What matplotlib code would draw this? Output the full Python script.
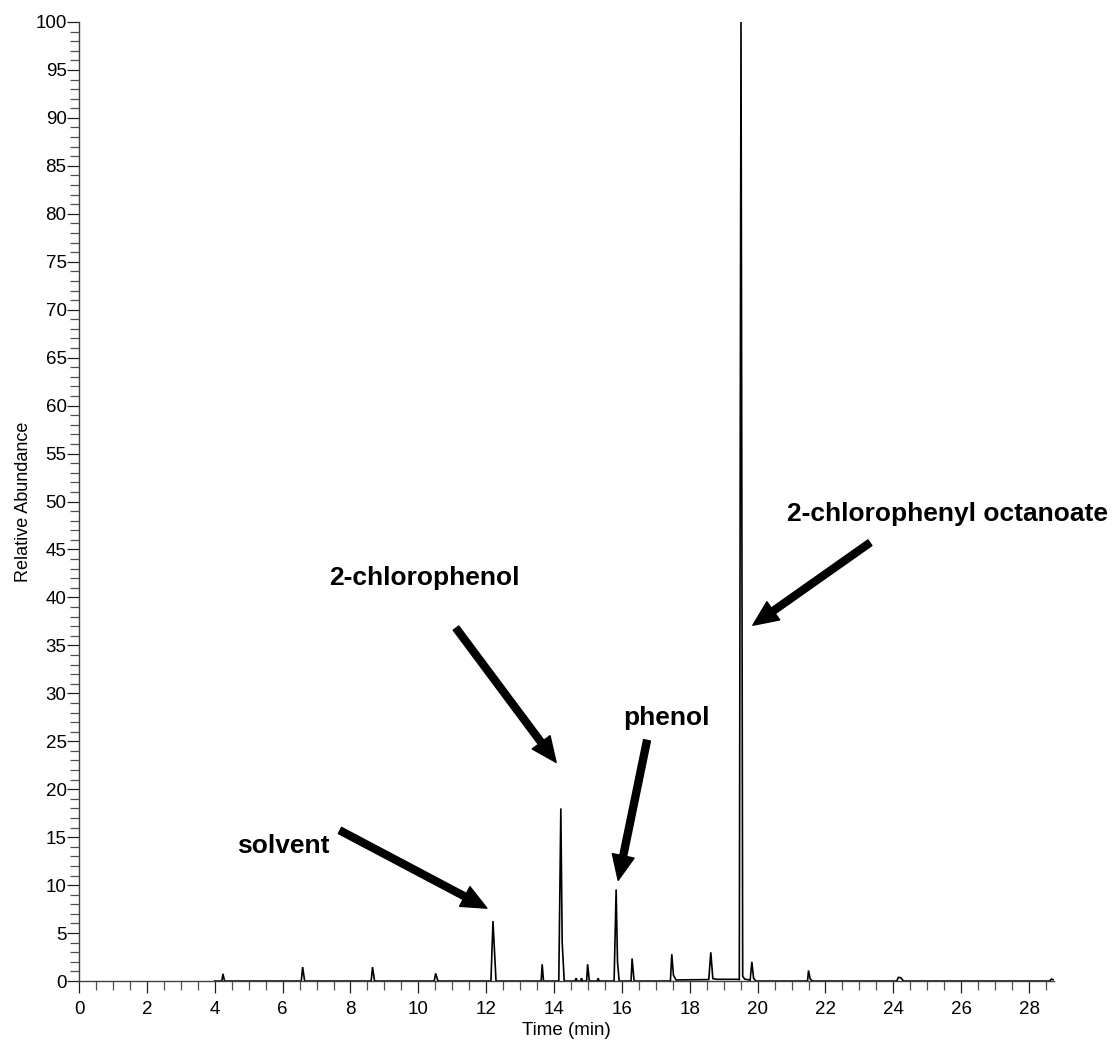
import matplotlib
matplotlib.use("Agg")
import matplotlib.pyplot as plt
from matplotlib.ticker import MultipleLocator

plt.rcParams['font.family'] = ['Liberation Sans', 'DejaVu Sans']

# Chromatogram trace (time in min, relative abundance in %)
time_min = [4.00, 4.21, 4.24, 4.29,
            6.55, 6.59, 6.65,
            8.61, 8.65, 8.71,
            10.47, 10.51, 10.58,
            12.14, 12.20, 12.29,
            13.62, 13.65, 13.69,
            14.14, 14.20, 14.24, 14.30,
            14.62, 14.65, 14.68, 14.78, 14.81, 14.84,
            14.96, 14.99, 15.04,
            15.27, 15.30, 15.33,
            15.77, 15.83, 15.87, 15.92,
            16.27, 16.30, 16.36,
            17.43, 17.47, 17.52, 17.60, 17.70,
            18.56, 18.62, 18.68, 18.80,
            19.40, 19.46, 19.51, 19.56, 19.62,
            19.78, 19.83, 19.88, 19.95,
            21.47, 21.50, 21.55, 21.62,
            24.10, 24.15, 24.22, 24.30,
            28.60, 28.66, 28.71]
abundance = [0, 0, 0.75, 0,
             0, 1.45, 0,
             0, 1.45, 0,
             0, 0.8, 0,
             0, 6.25, 0,
             0, 1.75, 0,
             0, 18.0, 4.0, 0,
             0, 0.3, 0, 0, 0.3, 0,
             0, 1.75, 0,
             0, 0.3, 0,
             0, 9.55, 2.0, 0,
             0, 2.35, 0,
             0, 2.8, 0.6, 0.1, 0.12,
             0.15, 3.0, 0.25, 0.18,
             0.18, 0.15, 100.0, 0.5, 0.2,
             0.1, 2.0, 0.3, 0,
             0, 1.1, 0.2, 0,
             0, 0.38, 0.35, 0,
             0, 0.2, 0.15]

# Annotations: label, text position, arrow tail, arrow head (data coords)
labels = ["solvent", "2-chlorophenol", "phenol", "2-chlorophenyl octanoate"]
label_xy = [(6.01, 14.1), (10.17, 42.0), (17.30, 27.4), (25.61, 48.7)]
arrow_tail = [(7.69, 15.7), (11.11, 36.8), (16.74, 25.1), (23.31, 45.7)]
arrow_head = [(12.02, 7.6), (14.06, 22.8), (15.89, 10.5), (19.86, 37.1)]

x_ticks = list(range(0, 29, 2))
y_ticks = list(range(0, 101, 5))

fig = plt.figure(figsize=(11.18, 10.46), dpi=100)
ax = fig.add_axes([0.0707, 0.0621, 0.8725, 0.9169])

ax.plot(time_min, abundance, color='black', lw=1.2, solid_joinstyle='miter')

ax.set_xlim(0, 28.75)
ax.set_ylim(0, 100)
ax.set_xticks(x_ticks)
ax.set_yticks(y_ticks)
ax.xaxis.set_minor_locator(MultipleLocator(0.5))
ax.yaxis.set_minor_locator(MultipleLocator(1))

for s in ['top', 'right']:
    ax.spines[s].set_visible(False)
for s in ['left', 'bottom']:
    ax.spines[s].set_color('#404040')
    ax.spines[s].set_linewidth(1.0)

ax.tick_params(axis='both', which='major', length=8.5, width=0.9, color='#202020',
               labelsize=13.5, direction='out')
ax.tick_params(axis='both', which='minor', length=6.5, width=0.9, color='#505050',
               direction='out')
ax.tick_params(axis='y', which='major', pad=0.5)
ax.tick_params(axis='x', which='major', pad=6)

ax.set_xlabel("Time (min)", fontsize=13.5, labelpad=3)
ax.set_ylabel("Relative Abundance", fontsize=13, labelpad=2)

for lab, txy, tail, head in zip(labels, label_xy, arrow_tail, arrow_head):
    ax.text(txy[0], txy[1], lab, fontsize=19, fontweight='bold',
            ha='center', va='center')
    ax.annotate('', xy=head, xytext=tail,
                arrowprops=dict(facecolor='black', edgecolor='black',
                                width=5, headwidth=16, headlength=18, shrink=0))

fig.savefig("out.png", dpi=100)
